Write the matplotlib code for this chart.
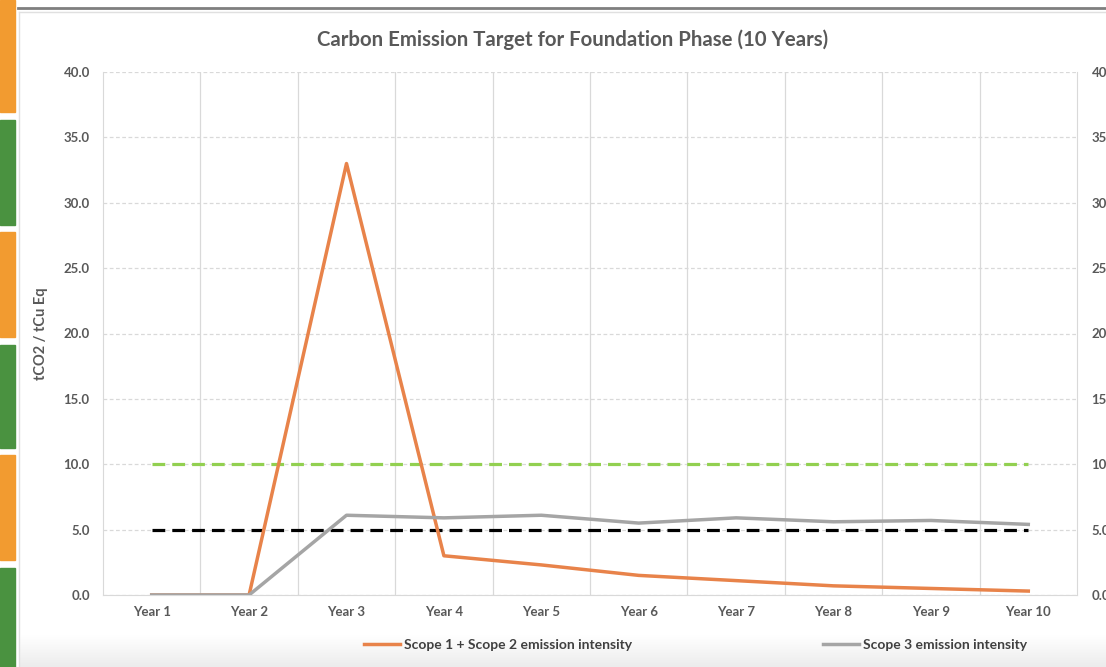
import numpy as np
import matplotlib.pyplot as plt
from matplotlib.patches import Rectangle
from matplotlib.lines import Line2D
from matplotlib.colors import LinearSegmentedColormap

plt.rcParams['font.family'] = ['Lato', 'DejaVu Sans']

years = ['Year 1', 'Year 2', 'Year 3', 'Year 4', 'Year 5',
         'Year 6', 'Year 7', 'Year 8', 'Year 9', 'Year 10']
scope12 = [0.0, 0.0, 33.0, 3.0, 2.3, 1.5, 1.1, 0.7, 0.5, 0.3]
scope3 = [0.0, 0.0, 6.1, 5.9, 6.1, 5.5, 5.9, 5.6, 5.7, 5.4]
target_high = [10.0] * 10
target_low = [5.0] * 10
yticks = [0, 5, 10, 15, 20, 25, 30, 35, 40]

txt = '#595959'
grid = '#D9D9D9'

fig = plt.figure(figsize=(11.06, 6.67), dpi=100)
W, H = 1106, 667

# side strip of coloured blocks
strip = [(0, 112, '#F29B30'), (120, 225, '#4A9240'), (232, 337, '#F29B30'),
         (345, 448, '#4A9240'), (455, 560, '#F29B30'), (568, 667, '#4A9240')]
for y0, y1, c in strip:
    fig.patches.append(Rectangle((0, 1 - y1 / H), 15 / W, (y1 - y0) / H,
                                 transform=fig.transFigure, color=c, zorder=0))
fig.lines.append(Line2D([18 / W, 1], [1 - 8 / H, 1 - 8 / H], transform=fig.transFigure,
                        color='#7F7F7F', lw=2))
fig.lines.append(Line2D([19 / W, 1], [1 - 12 / H, 1 - 12 / H], transform=fig.transFigure,
                        color='#E0E0E0', lw=1))
fig.lines.append(Line2D([19 / W, 19 / W], [0, 1 - 12 / H], transform=fig.transFigure,
                        color='#E0E0E0', lw=1))

# soft shading at the bottom
bg = fig.add_axes([20 / W, 0, 1 - 20 / W, 32 / H], zorder=-1)
shade = LinearSegmentedColormap.from_list('shade', ['#ECECEC', '#FFFFFF'])
grad = np.linspace(0, 1, 50).reshape(-1, 1)
bg.imshow(grad, aspect='auto', cmap=shade, origin='lower', extent=[0, 1, 0, 1])
bg.axis('off')

ax = fig.add_axes([103 / W, 1 - 595 / H, (1077 - 103) / W, (595 - 72) / H])
x = np.arange(len(years))

ax.plot(x, target_high, color='#92D050', lw=2.3, ls=(0, (4, 2.2)), zorder=3)
ax.plot(x, target_low, color='black', lw=2.3, ls=(0, (4, 2.2)), zorder=3)
l1, = ax.plot(x, scope12, color='#E8834A', lw=2.5, zorder=4,
              label='Scope 1 + Scope 2 emission intensity')
l2, = ax.plot(x, scope3, color='#A5A5A5', lw=2.5, zorder=4,
              label='Scope 3 emission intensity')

ax.set_xlim(-0.5, len(years) - 0.5)
ax.set_ylim(0, 40)
ax.set_xticks(x)
ax.set_xticklabels(years)
ax.set_yticks(yticks)
ax.set_yticklabels([f'{v:.1f}' for v in yticks])
ax.set_xticks(np.arange(0.5, len(years) - 1, 1), minor=True)
ax.grid(axis='y', color=grid, ls=(0, (3, 2)), lw=0.9)
ax.grid(axis='x', which='minor', color=grid, lw=0.9)
ax.tick_params(axis='both', which='both', length=0, colors=txt, labelsize=9.5)
ax.tick_params(axis='x', pad=8)
ax.tick_params(axis='y', pad=9.5)
for lab in ax.get_xticklabels() + ax.get_yticklabels():
    lab.set_fontweight('bold')
for s in ax.spines.values():
    s.set_color(grid)
ax.spines['top'].set_visible(False)

# secondary scale on the right, running past the figure edge
ax2 = ax.twinx()
ax2.set_ylim(0, 40)
ax2.set_yticks(yticks)
ax2.set_yticklabels([f'{v:.1f}' for v in yticks], fontweight='bold')
ax2.tick_params(axis='y', length=0, colors=txt, labelsize=9.5, pad=10.5)
for s in ax2.spines.values():
    s.set_visible(False)

ax.set_ylabel('tCO2 / tCu Eq', color=txt, fontsize=10.5, fontweight='bold')
ax.yaxis.set_label_coords(-0.0565, 0.5)
fig.suptitle('Carbon Emission Target for Foundation Phase (10 Years)', x=573 / W, y=1 - 40 / H,
             va='center', color=txt, fontsize=14.7, fontweight='bold')

fig.legend(handles=[l1, l2], loc='center left', bbox_to_anchor=(364 / W, 1 - 645 / H),
           ncol=2, frameon=False, handlelength=2.6, handletextpad=0.3,
           columnspacing=13.7, borderpad=0, borderaxespad=0, labelcolor='#404040',
           prop={'weight': 'bold', 'size': 10})

fig.savefig('out.png', dpi=100)
